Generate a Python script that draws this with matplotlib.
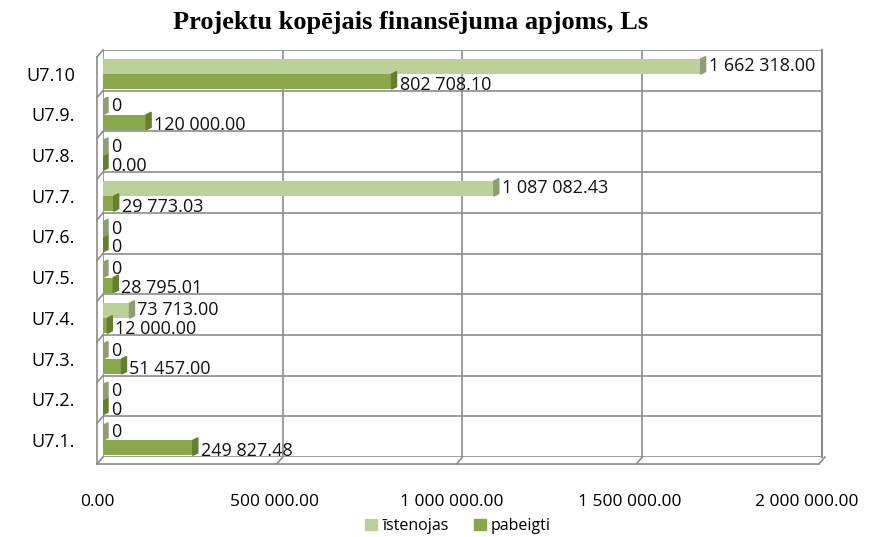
import matplotlib
matplotlib.use("Agg")
import matplotlib.pyplot as plt
from matplotlib.patches import Rectangle, Polygon
from matplotlib.lines import Line2D
from matplotlib.transforms import ScaledTranslation

categories = ["U7.1.", "U7.2.", "U7.3.", "U7.4.", "U7.5.", "U7.6.", "U7.7.", "U7.8.", "U7.9.", "U7.10"]
istenojas = [0, 0, 0, 73713.00, 0, 0, 1087082.43, 0, 0, 1662318.00]
pabeigti = [249827.48, 0, 51457.00, 12000.00, 28795.01, 0, 29773.03, 0, 120000.00, 802708.10]
istenojas_labels = ["0", "0", "0", "73 713.00", "0", "0", "1 087 082.43", "0", "0", "1 662 318.00"]
pabeigti_labels = ["249 827.48", "0", "51 457.00", "12 000.00", "28 795.01", "0", "29 773.03", "0.00", "120 000.00", "802 708.10"]
xticks = [0, 500000, 1000000, 1500000, 2000000]
xtick_labels = ["0.00", "500 000.00", "1 000 000.00", "1 500 000.00", "2 000 000.00"]
series_names = ["īstenojas", "pabeigti"]

W, H = 870, 537
fig = plt.figure(figsize=(W / 100, H / 100), dpi=100)
L, R, T, B = 103, 822, 50, 457
ax = fig.add_axes([L / W, 1 - B / H, (R - L) / W, (B - T) / H])

light, light_side = "#BCD19A", "#8E9E74"
dark, dark_side = "#8AA74C", "#64802C"
grid = "#8C8C8C"

n = len(categories)
px = 2000000 / (R - L)  # data units per pixel
side_w = 5 * px
bh = 0.37
font = "Open Sans"
vfs = 13

ax.set_xlim(0, 2000000)
ax.set_ylim(0, n)

for xv in xticks:
    ax.axvline(xv, color=grid, lw=1.2, zorder=0)
for i in range(n + 1):
    ax.axhline(i, color=grid, lw=1.2, zorder=0)

yd = [i + 0.04 for i in range(n)]
yl = [i + 0.04 + bh for i in range(n)]
ax.barh(yd, pabeigti, height=bh, align="edge", color=dark, zorder=2)
ax.barh(yl, istenojas, height=bh, align="edge", color=light, zorder=2)

for vals, ys, sc in [(pabeigti, yd, dark_side), (istenojas, yl, light_side)]:
    for v, y in zip(vals, ys):
        ax.add_patch(Polygon([(v, y), (v + side_w, y + 0.06), (v + side_w, y + bh + 0.06), (v, y + bh)],
                             closed=True, color=sc, zorder=3))

for i in range(n):
    ax.text(istenojas[i] + side_w + 3 * px, yl[i] + bh * 0.55, istenojas_labels[i],
            fontsize=vfs, family=font, va="center", ha="left", zorder=5, color="#111111")
    ax.text(pabeigti[i] + side_w + 3 * px, yd[i] + bh * 0.3, pabeigti_labels[i],
            fontsize=vfs, family=font, va="center", ha="left", zorder=5, color="#111111")

ax.set_yticks([i + 0.42 for i in range(n)])
ax.set_yticklabels(categories, fontsize=13, family=font)
ax.tick_params(axis="y", length=0, pad=20)
ax.set_xticks(xticks)
ax.set_xticklabels(xtick_labels, fontsize=12.5, family=font)
ax.tick_params(axis="x", length=0, pad=27)
for v, lab in zip(xticks, ax.get_xticklabels()):
    dx = -(6 + v / 2000000 * 9)
    lab.set_transform(lab.get_transform() + ScaledTranslation(dx / 100, 0, fig.dpi_scale_trans))
for s in ax.spines.values():
    s.set_visible(False)
ax.spines["right"].set_visible(True)
ax.spines["right"].set_color(grid)
ax.spines["right"].set_linewidth(1.5)

# 3D side wall / floor edges (figure pixel coords)
def fl(x0, y0, x1, y1, **kw):
    fig.add_artist(Line2D([x0 / W, x1 / W], [1 - y0 / H, 1 - y1 / H], color=grid, lw=1.2, **kw))

fl(97, 57, 97, 464)
fl(97, 464, 819, 464)
fl(819, 464, 825, 457)
for i in range(n + 1):
    yy = T + i * (B - T) / n
    fl(97, yy + 7, L, yy)
for xv in xticks[1:-1]:
    xp = L + xv / px
    fl(xp - 6, 464, xp, B)

fig.text(411 / W, 1 - 23 / H, "Projektu kopējais finansējuma apjoms, Ls", ha="center", va="center",
         fontsize=19, fontweight="bold", family="Liberation Serif")

handles = [Rectangle((0, 0), 1, 1, color=light), Rectangle((0, 0), 1, 1, color=dark)]
fig.legend(handles, series_names, loc="center", bbox_to_anchor=(458 / W, 1 - 526 / H), ncol=2, frameon=False,
           prop={"family": font, "size": 11.5}, handlelength=0.75, handleheight=0.75,
           handletextpad=0.3, columnspacing=1.6)

fig.savefig("out.png", dpi=100)
